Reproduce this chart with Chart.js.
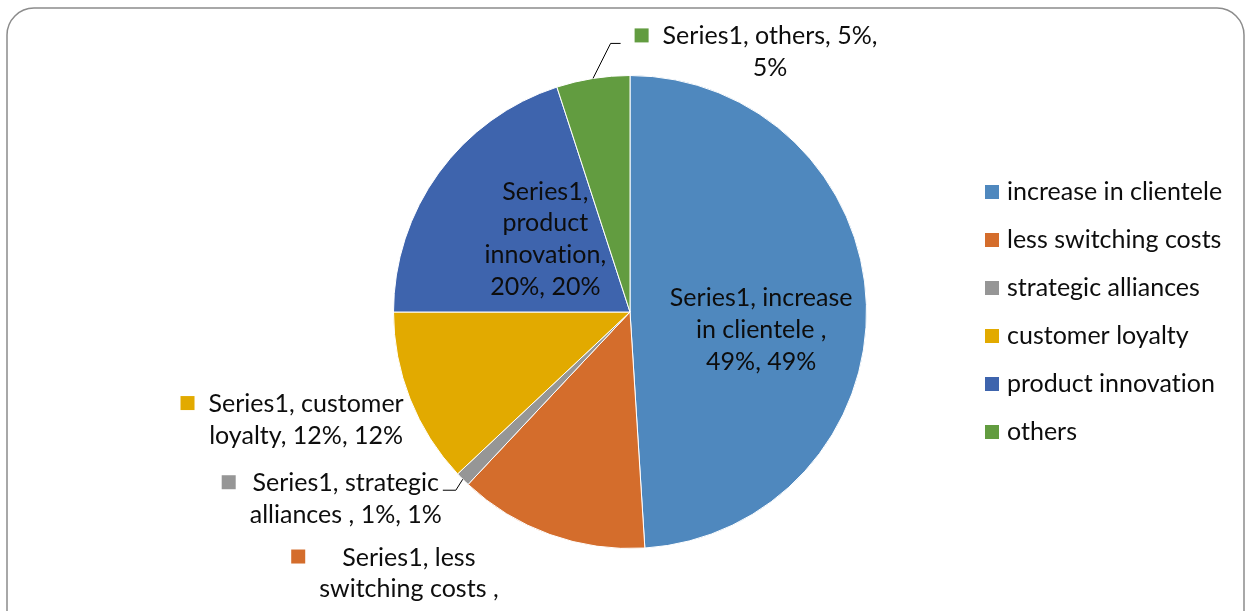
<!DOCTYPE html>
<html>
<head>
<meta charset="utf-8">
<script src="https://cdn.jsdelivr.net/npm/chart.js@4.4.1/dist/chart.umd.min.js"></script>
<style>
    html, body { margin: 0; padding: 0; background: #fff; }
    #wrap { position: relative; width: 1250px; height: 611px; }
</style>
</head>
<body>
<div id="wrap"><canvas id="pie"></canvas></div>
<script>
// ---- data ----
const seriesName = 'Series1';
const categories = ['increase in clientele ', 'less switching costs ', 'strategic alliances ', 'customer loyalty', 'product innovation', 'others'];
const shares = [49, 13, 1, 12, 20, 5];
const sliceColors = ['#4F88BE', '#D46D2C', '#969696', '#E2AA00', '#3E64AD', '#629C40'];

// data label placement (offset of text centre / first line from the anchor point)
const labelStyle = [
    { inside: true,  dx: 13,   dy: -10, wrap: 187 },
    { inside: false, dx: -141, dy: 23,  wrap: 180 },
    { inside: false, dx: -117, dy: 4,   wrap: 195, leader: true },
    { inside: false, dx: -104, dy: 5,   wrap: 200 },
    { inside: true,  dx: 11,   dy: -51, wrap: 130 },
    { inside: false, dx: 177,  dy: -42, wrap: 215, leader: true }
];

const FONT = '25px Lato';
const LINE_H = 31.7;
const TEXT = '#0d0d0d';

function wrapText(ctx, text, maxW) {
    const words = text.split(' ');
    const lines = [];
    let cur = '';
    words.forEach(w => {
        const test = cur ? cur + ' ' + w : w;
        if (cur && ctx.measureText(test).width > maxW) {
            lines.push(cur);
            cur = w;
        } else {
            cur = test;
        }
    });
    if (cur) lines.push(cur);
    return lines;
}

// rounded frame behind everything
const framePlugin = {
    id: 'frame',
    beforeDraw(chart) {
        const ctx = chart.ctx;
        ctx.save();
        ctx.strokeStyle = '#8c8c8c';
        ctx.lineWidth = 1.5;
        ctx.beginPath();
        ctx.roundRect(7, 8, 1237, 700, 27);
        ctx.stroke();
        ctx.restore();
    }
};

// Excel style data labels + legend on the right
const labelPlugin = {
    id: 'excelLabels',
    afterDatasetsDraw(chart) {
        const ctx = chart.ctx;
        const meta = chart.getDatasetMeta(0);
        ctx.save();
        ctx.font = FONT;
        ctx.textBaseline = 'middle';
        ctx.textAlign = 'center';
        ctx.letterSpacing = '0.01px'; // keeps the "ti" ligature off

        meta.data.forEach((arc, i) => {
            const p = arc.getProps(['x', 'y', 'startAngle', 'endAngle', 'outerRadius'], true);
            const mid = (p.startAngle + p.endAngle) / 2;
            const st = labelStyle[i];
            const r = st.inside ? p.outerRadius / 2 : p.outerRadius;
            const ax = p.x + Math.cos(mid) * r;
            const ay = p.y + Math.sin(mid) * r;

            const text = `${seriesName}, ${categories[i]}, ${shares[i]}%, ${shares[i]}%`;
            const lines = wrapText(ctx, text, st.wrap);
            const cx = ax + st.dx;
            const y0 = ay + st.dy;
            const blockW = Math.max(...lines.map(l => ctx.measureText(l).width));
            const left = cx - blockW / 2;

            ctx.fillStyle = TEXT;
            lines.forEach((l, k) => ctx.fillText(l, cx, y0 + k * LINE_H));

            if (!st.inside) {
                // legend key in front of the first line
                ctx.fillStyle = sliceColors[i];
                ctx.fillRect(left - 28, y0 - 8, 14, 14);

                if (st.leader) {
                    ctx.strokeStyle = '#000';
                    ctx.lineWidth = 1;
                    ctx.beginPath();
                    const ly = y0 + 7;
                    if (cx > ax) {
                        const ex = left - 42;
                        ctx.moveTo(ax, ay);
                        ctx.lineTo(ex - 10, ly);
                        ctx.lineTo(ex, ly);
                    } else {
                        const ex = cx + blockW / 2 + 1;
                        ctx.moveTo(ex, ly);
                        ctx.lineTo(ex + 13, ly);
                        ctx.lineTo(ax, ay);
                    }
                    ctx.stroke();
                }
            }
        });

        // legend
        const area = chart.chartArea;
        const lx = area.right + 118;
        const midY = (area.top + area.bottom) / 2;
        const rowH = 48;
        ctx.textAlign = 'left';
        categories.forEach((c, i) => {
            const y = midY + (i - (categories.length - 1) / 2) * rowH;
            ctx.fillStyle = sliceColors[i];
            ctx.fillRect(lx, y - 7, 14, 14);
            ctx.fillStyle = TEXT;
            ctx.fillText(c.trim(), lx + 22, y);
        });
        ctx.restore();
    }
};

new Chart(document.getElementById('pie'), {
    type: 'pie',
    data: {
        labels: categories,
        datasets: [{
            data: shares,
            backgroundColor: sliceColors,
            borderColor: '#ffffff',
            borderWidth: 1
        }]
    },
    options: {
        responsive: true,
        maintainAspectRatio: false,
        animation: false,
        layout: { padding: { top: 75, bottom: 62, left: 393, right: 383 } },
        plugins: {
            legend: { display: false },
            tooltip: { enabled: false }
        }
    },
    plugins: [framePlugin, labelPlugin]
});
</script>
</body>
</html>
